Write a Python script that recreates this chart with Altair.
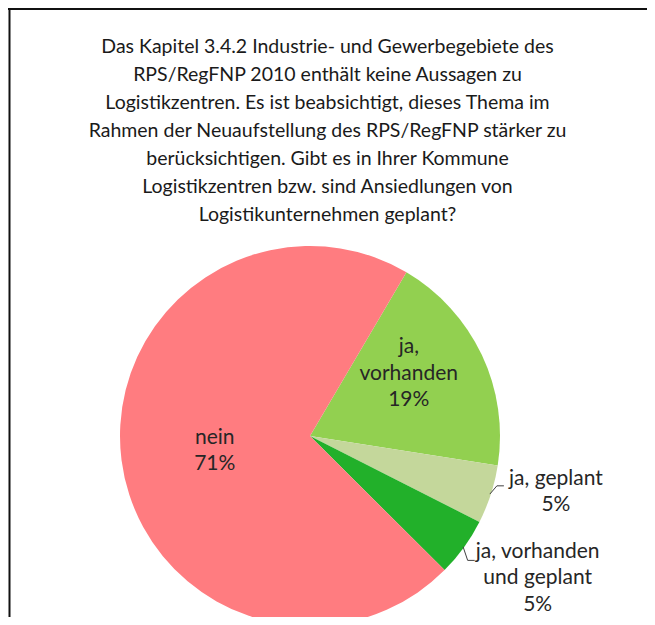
import math
import altair as alt
import pandas as pd

# ---------------- data ----------------
title_lines = [
    "Das Kapitel 3.4.2 Industrie- und Gewerbegebiete des",
    "RPS/RegFNP 2010 enthält keine Aussagen zu",
    "Logistikzentren. Es ist beabsichtigt, dieses Thema im",
    "Rahmen der Neuaufstellung des RPS/RegFNP stärker zu",
    "berücksichtigen. Gibt es in Ihrer Kommune",
    "Logistikzentren bzw. sind Ansiedlungen von",
    "Logistikunternehmen geplant?",
]
categories = ["ja, vorhanden", "ja, geplant", "ja, vorhanden und geplant", "nein"]
values = [19, 5, 5, 71]
label_names = ["ja,\nvorhanden", "ja, geplant", "ja, vorhanden\nund geplant", "nein"]
colors = ["#92D050", "#C4D79B", "#22B02A", "#FF7C80"]

# ---------------- style / layout ----------------
W, H = 639, 609
CX, CY, R = 302, 428, 190
START_DEG = 30.5
FONT = "Lato"
TITLE_FS = 19.5
LABEL_FS = 21
LABEL_LH = 26.5
# label block-centre placement: radius, dx, dy
label_style = {
    "ja, vorhanden": (117, -7, -12),
    "ja, geplant": (250, 8, -21),
    "ja, vorhanden und geplant": (265, 13, -13),
    "nein": (96, 0, 3),
}
# leader-line elbow / end offsets relative to the label centre
leader_style = {
    "ja, geplant": [(-59, -6), (-52, -6)],
    "ja, vorhanden und geplant": [(-70, -18), (-63, -18)],
}

total = sum(values)
cum = 0
rows = []
for i, (c, v, n) in enumerate(zip(categories, values, label_names)):
    mid = cum + v / 2
    cum += v
    rows.append({"cat": c, "value": v, "idx": i, "mid": mid, "label": f"{n}\n{v}%"})
df = pd.DataFrame(rows)

start = math.radians(START_DEG)
theta_scale = alt.Scale(domain=[0, total], range=[start, start + 2 * math.pi])


def polar(frac_val, r):
    a = START_DEG + 360 * frac_val / total
    ar = math.radians(a)
    return CX + r * math.sin(ar), CY - r * math.cos(ar)


# leader lines computed from the slice mid-angles
lrows = []
for c, pts in leader_style.items():
    m = df.loc[df.cat == c, "mid"].iloc[0]
    r_lab, dx, dy = label_style[c]
    lx, ly = polar(m, r_lab)
    lx += dx
    ly += dy
    p0 = polar(m, R - 1)
    lrows.append({"cat": c, "k": 0, "x": p0[0], "y": p0[1]})
    for k, (ox, oy) in enumerate(pts, start=1):
        lrows.append({"cat": c, "k": k, "x": lx + ox, "y": ly + oy})
ldf = pd.DataFrame(lrows)

base = alt.Chart(df)

pie = base.mark_arc(outerRadius=R).encode(
    theta=alt.Theta("value:Q", stack=True, scale=theta_scale),
    color=alt.Color("cat:N", scale=alt.Scale(domain=categories, range=colors), legend=None),
    order=alt.Order("idx:Q"),
    x=alt.value(CX),
    y=alt.value(CY),
)

label_layers = []
for c in categories:
    r_lab, dx, dy = label_style[c]
    n_lines = df.loc[df.cat == c, "label"].iloc[0].count("\n") + 1
    dy_first = dy - (n_lines - 1) * LABEL_LH / 2
    label_layers.append(
        base.transform_filter(alt.datum.cat == c)
        .mark_text(
            radius=r_lab, dx=dx, dy=dy_first, font=FONT, fontSize=LABEL_FS, lineBreak="\n",
            lineHeight=LABEL_LH, align="center", baseline="middle", color="#262626",
        )
        .encode(
            theta=alt.Theta("mid:Q", stack=None, scale=theta_scale),
            text="label:N",
            x=alt.value(CX),
            y=alt.value(CY),
        )
    )

leaders = alt.Chart(ldf).mark_line(color="#404040", strokeWidth=1).encode(
    x=alt.X("x:Q", scale=None, axis=None),
    y=alt.Y("y:Q", scale=None, axis=None),
    detail="cat:N",
    order="k:Q",
)

title = alt.Chart(pd.DataFrame({"t": ["\n".join(title_lines)]})).mark_text(
    font=FONT, fontSize=TITLE_FS, lineBreak="\n", lineHeight=28, align="center",
    baseline="top", color="#1a1a1a",
).encode(text="t:N", x=alt.value(W / 2), y=alt.value(30))

frame_top = alt.Chart(pd.DataFrame({"a": [0]})).mark_rule(color="#111111", strokeWidth=2).encode(
    x=alt.value(0), x2=alt.value(W), y=alt.value(1)
)
frame_left = alt.Chart(pd.DataFrame({"a": [0]})).mark_rule(color="#111111", strokeWidth=2).encode(
    x=alt.value(1.5), y=alt.value(0), y2=alt.value(H)
)

chart = alt.layer(pie, *label_layers, leaders, title, frame_top, frame_left).properties(
    width=W, height=H, padding=0, autosize=alt.AutoSizeParams(type="none"), background="white"
).configure_view(stroke=None)

chart.save("out.html", embed_options={"renderer": "svg", "actions": False})
